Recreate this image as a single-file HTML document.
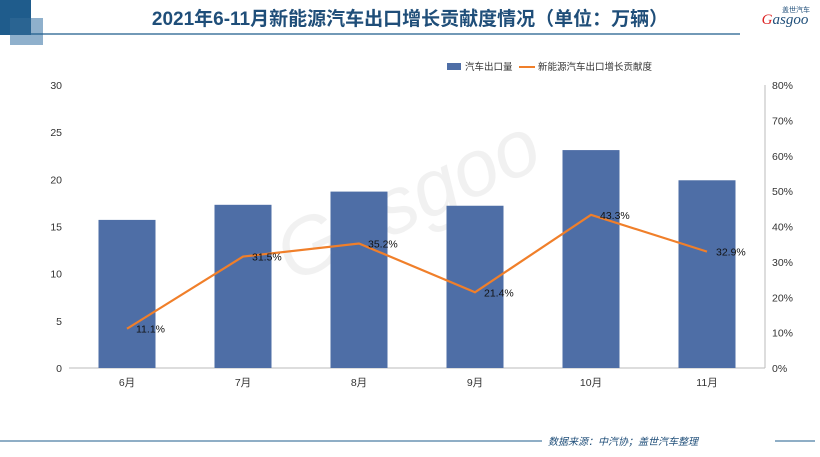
<!DOCTYPE html>
<html><head><meta charset="utf-8"><style>
body{margin:0;width:820px;height:452px;overflow:hidden;background:#fff;font-family:"Liberation Sans","Noto Sans CJK SC",sans-serif}
</style></head><body>
<svg id="c" width="820" height="452" xmlns="http://www.w3.org/2000/svg">
<rect x="0" y="0" width="31" height="35" fill="#1f5c8c"/>
<rect x="10" y="18" width="33" height="27" fill="#8fb0cc"/>
<rect x="0" y="0" width="31" height="35" fill="#1f5c8c" opacity="0.9"/>
<line x1="31" y1="34" x2="740" y2="34" stroke="#1f5c8c" stroke-width="1.2"/>
<text x="410" y="25" text-anchor="middle" font-size="19" font-weight="bold" fill="#1f4e79">2021年6-11月新能源汽车出口增长贡献度情况（单位：万辆）</text>
<text x="785" y="24" text-anchor="middle" font-size="15" font-style="italic" fill="#1f4e79" font-family="Liberation Serif,serif"><tspan fill="#d22">G</tspan>asgoo</text>
<text x="796" y="12" text-anchor="middle" font-size="7" fill="#1f4e79">盖世汽车</text>
<text x="419" y="224" text-anchor="middle" font-size="80" font-style="italic" fill="#000" opacity="0.05" transform="rotate(-25 419 224)">Gasgoo</text>
<rect x="447" y="63" width="14" height="7" fill="#4e6ea6"/>
<text x="465" y="70" font-size="9.5" fill="#333">汽车出口量</text>
<line x1="519" y1="67" x2="535" y2="67" stroke="#f07f2a" stroke-width="2"/>
<text x="538" y="70" font-size="9.5" fill="#333">新能源汽车出口增长贡献度</text>
<g id="axes"></g><g id="bars"></g><g id="line"></g>
<line x1="0" y1="441" x2="542" y2="441" stroke="#1f5c8c" stroke-width="1"/>
<line x1="775" y1="441" x2="815" y2="441" stroke="#1f5c8c" stroke-width="1"/>
<text x="548" y="445" font-size="10" font-style="italic" fill="#1f4e79">数据来源：中汽协；盖世汽车整理</text>
</svg>
<script>
const categories=["6月","7月","8月","9月","10月","11月"];
const exports=[15.7,17.3,18.7,17.2,23.1,19.9];
const share=[11.1,31.5,35.2,21.4,43.3,32.9];
const leftTicks=[0,5,10,15,20,25,30];
const rightTicks=[0,10,20,30,40,50,60,70,80];
const NS="http://www.w3.org/2000/svg";
const X0=69,X1=765,Y0=368,Y1=85,step=(X1-X0)/categories.length;
const xc=i=>X0+step*(i+0.5);
const yl=v=>Y0-(v/30)*(Y0-Y1);
const yr=v=>Y0-(v/80)*(Y0-Y1);
function mk(t,a,p){const e=document.createElementNS(NS,t);for(const k in a)e.setAttribute(k,a[k]);p.appendChild(e);return e;}
const ax=document.getElementById('axes'),bg=document.getElementById('bars'),lg=document.getElementById('line');
let b=mk('line',{x1:X0,y1:Y0,x2:X1,y2:Y0,stroke:'#bbb'},ax);


let r=mk('line',{x1:X1,y1:Y1,x2:X1,y2:Y0,stroke:'#bbb'},ax);


leftTicks.forEach(v=>{const t=mk('text',{x:62,y:yl(v)+4,'text-anchor':'end','font-size':10.5,fill:'#333'},ax);t.textContent=v;

});
rightTicks.forEach(v=>{const t=mk('text',{x:772,y:yr(v)+4,'font-size':10.5,fill:'#333'},ax);t.textContent=v+'%';

});
categories.forEach((c,i)=>{const t=mk('text',{x:xc(i),y:386,'text-anchor':'middle','font-size':10.5,fill:'#333'},ax);t.textContent=c;


const rc=mk('rect',{x:xc(i)-28.5,y:yl(exports[i]),width:57,height:Y0-yl(exports[i]),fill:'#4e6ea6'},bg);

});
const pl=mk('polyline',{points:share.map((v,i)=>xc(i)+','+yr(v)).join(' '),fill:'none',stroke:'#f07f2a','stroke-width':2.2},lg);


share.forEach((v,i)=>{const t=mk('text',{x:xc(i)+9,y:yr(v)+4,'font-size':10.5,fill:'#111'},lg);t.textContent=v.toFixed(1)+'%';

});
</script>
</body></html>
